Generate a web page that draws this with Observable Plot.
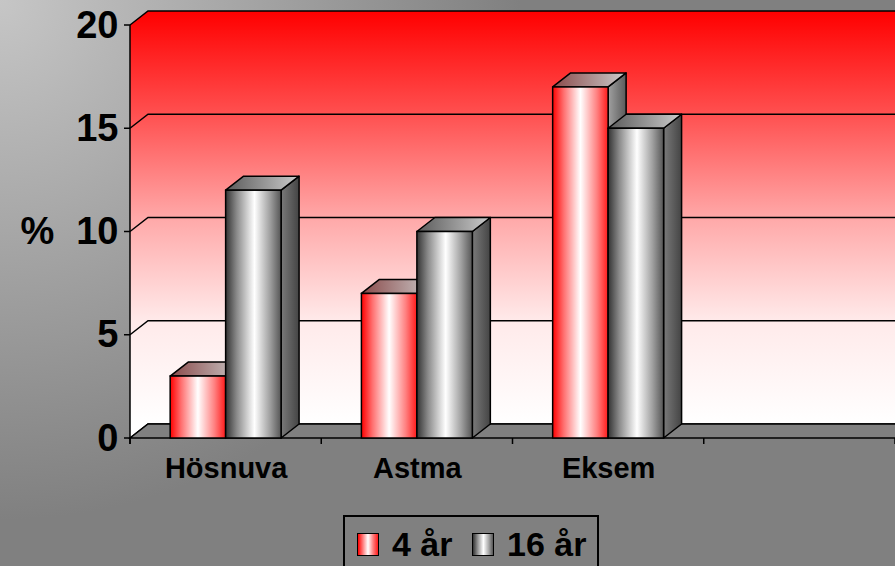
<!DOCTYPE html>
<html>
<head>
<meta charset="utf-8">
<script src="https://cdn.jsdelivr.net/npm/d3@7"></script>
<script src="https://cdn.jsdelivr.net/npm/@observablehq/plot@0.6"></script>
<style>
html, body { margin: 0; padding: 0; }
#wrap { position: relative; width: 895px; height: 566px; overflow: hidden;
  background: radial-gradient(circle at 0 0, #c6c6c6 0px, #808080 520px);
  font-family: "Liberation Sans", Arial, sans-serif; }
#chart svg { display: block; }
#legend { position: absolute; left: 343px; top: 515px; width: 252px; height: 60px; border: 2px solid #000; }
.sw { position: absolute; width: 20px; height: 21px; border: 1px solid #000; }
.lt { position: absolute; font: bold 34px/1 "Liberation Sans", Arial, sans-serif; color: #000; white-space: pre; }
</style>
</head>
<body>
<div id="wrap"><div id="chart"></div><div id="legend"></div></div>
<script>
// ---- data ----
const categories = ["Hösnuva", "Astma", "Eksem"];
const slotCount = 4; // the axis has four category slots, the last one empty
const seriesNames = ["4 år", "16 år"];
const values4 = [3, 7, 17];
const values16 = [12, 10, 15];
const yTicks = [0, 5, 10, 15, 20];

// ---- layout constants ----
const DX = 18, DY = -14;   // 3D depth offset in pixels
const barW = 0.29;         // bar width as fraction of a category slot

const bars4 = categories.map((c, i) => ({cat: c, series: seriesNames[0], value: values4[i], x1: i + 0.5 - barW, x2: i + 0.5}));
const bars16 = categories.map((c, i) => ({cat: c, series: seriesNames[1], value: values16[i], x1: i + 0.5, x2: i + 0.5 + barW}));

function grad(defs, id, stops, attrs) {
  const g = defs.append("linearGradient").attr("id", id);
  for (const k in attrs) g.attr(k, attrs[k]);
  for (const [o, c] of stops) g.append("stop").attr("offset", o).attr("stop-color", c);
}

// gradients (defined using the y scale for the wall)
const defsMark = (index, {x, y}) => {
  const g = d3.create("svg:g");
  const defs = g.append("defs");
  grad(defs, "wallGrad", [[0, "#ff0000"], [0.25, "#ff5050"], [0.5, "#ffa8a8"], [0.75, "#ffeaea"], [1, "#ffffff"]],
    {gradientUnits: "userSpaceOnUse", x1: 0, x2: 0, y1: y(20) + DY, y2: y(0) + DY});
  grad(defs, "redFront", [[0, "#ff0000"], [0.2, "#ff7070"], [0.5, "#ffffff"], [0.8, "#ff8080"], [1, "#ff1a1a"]], {x1: 0, x2: 1, y1: 0, y2: 0});
  grad(defs, "grayFront", [[0, "#333333"], [0.2, "#8a8a8a"], [0.52, "#ffffff"], [0.8, "#a0a0a0"], [1, "#555555"]], {x1: 0, x2: 1, y1: 0, y2: 0});
  grad(defs, "redTop", [[0, "#8a4a4a"], [1, "#cccccc"]], {x1: 0, x2: 1, y1: 0, y2: 0});
  grad(defs, "grayTop", [[0, "#5a5a5a"], [1, "#cccccc"]], {x1: 0, x2: 1, y1: 0, y2: 0});
  grad(defs, "redSide", [[0, "#a0a0a0"], [1, "#5a5a5a"]], {x1: 0, x2: 1, y1: 0, y2: 0});
  grad(defs, "graySide", [[0, "#7a7a7a"], [1, "#444444"]], {x1: 0, x2: 1, y1: 0, y2: 0});
  return g.node();
};

// walls, gridlines and floor
const wallsMark = (index, {x, y}) => {
  const g = d3.create("svg:g");
  const xl = x(0), xr = x(slotCount), yt = y(20), yb = y(0);
  // side wall
  g.append("path").attr("d", `M${xl},${yt}L${xl + DX},${yt + DY}L${xl + DX},${yb + DY}L${xl},${yb}Z`).attr("fill", "url(#wallGrad)");
  // back wall
  g.append("path").attr("d", `M${xl + DX},${yt + DY}L${xr + DX},${yt + DY}L${xr + DX},${yb + DY}L${xl + DX},${yb + DY}Z`).attr("fill", "url(#wallGrad)");
  // gridlines
  for (const t of yTicks) {
    const yy = y(t);
    g.append("path").attr("d", `M${xl},${yy}L${xl + DX},${yy + DY}L${xr + DX},${yy + DY}`)
      .attr("fill", "none").attr("stroke", "#000").attr("stroke-width", 1.5);
  }
  // floor
  g.append("path").attr("d", `M${xl},${yb}L${xl + DX},${yb + DY}L${xr + DX},${yb + DY}L${xr + DX},${yb}Z`)
    .attr("fill", "#808080").attr("stroke", "#000").attr("stroke-width", 1.5);
  return g.node();
};

function facesMark(bars, topGrad, sideGrad) {
  return (index, {x, y}) => {
    const g = d3.create("svg:g");
    for (const b of bars) {
      const xa = x(b.x1), xb = x(b.x2), yt = y(b.value), y0 = y(0);
      g.append("path").attr("d", `M${xb},${yt}L${xb + DX},${yt + DY}L${xb + DX},${y0 + DY}L${xb},${y0}Z`)
        .attr("fill", `url(#${sideGrad})`).attr("stroke", "#000").attr("stroke-width", 1.5).attr("stroke-linejoin", "round");
      g.append("path").attr("d", `M${xa},${yt}L${xa + DX},${yt + DY}L${xb + DX},${yt + DY}L${xb},${yt}Z`)
        .attr("fill", `url(#${topGrad})`).attr("stroke", "#000").attr("stroke-width", 1.5).attr("stroke-linejoin", "round");
    }
    return g.node();
  };
}

// axis lines and ticks
const axesMark = (index, {x, y}) => {
  const g = d3.create("svg:g").attr("stroke", "#000").attr("stroke-width", 1.5);
  const x0 = x(0), y0 = y(0);
  g.append("line").attr("x1", x0).attr("x2", x0).attr("y1", y(20)).attr("y2", y0 + 6);
  for (const t of yTicks) g.append("line").attr("x1", x0 - 6).attr("x2", x0).attr("y1", y(t)).attr("y2", y(t));
  for (let i = 0; i <= slotCount; i++) g.append("line").attr("x1", x(i)).attr("x2", x(i)).attr("y1", y0).attr("y2", y0 + 6);
  return g.node();
};

const chart = Plot.plot({
  width: 895,
  height: 505,
  marginLeft: 130,
  marginRight: 0,
  marginTop: 25,
  marginBottom: 67,
  x: {type: "linear", domain: [0, slotCount], axis: null},
  y: {domain: [0, 20], axis: null},
  style: {background: "transparent", fontFamily: "'Liberation Sans', Arial, sans-serif", overflow: "visible"},
  marks: [
    defsMark,
    wallsMark,
    facesMark(bars4, "redTop", "redSide"),
    Plot.rect(bars4, {x1: "x1", x2: "x2", y1: 0, y2: "value", fill: "url(#redFront)", stroke: "#000", strokeWidth: 1.5}),
    facesMark(bars16, "grayTop", "graySide"),
    Plot.rect(bars16, {x1: "x1", x2: "x2", y1: 0, y2: "value", fill: "url(#grayFront)", stroke: "#000", strokeWidth: 1.5}),
    axesMark,
    Plot.text(yTicks, {x: 0, y: d => d, text: d => `${d}`, textAnchor: "end", dx: -12, fontSize: 38, fontWeight: "bold", fill: "#000"}),
    Plot.text(categories, {x: (d, i) => i + 0.5, y: 0, text: d => d, dy: 30, fontSize: 29, fontWeight: "bold", fill: "#000"}),
    Plot.text(["%"], {x: 0, y: 10, text: d => d, textAnchor: "start", dx: -110, fontSize: 38, fontWeight: "bold", fill: "#000"})
  ]
});
document.getElementById("chart").appendChild(chart);

// legend
const legend = document.getElementById("legend");
const swatchBg = [
  "linear-gradient(to right, #ff0000, #ff8080 25%, #ffffff 50%, #ff8080 75%, #ff1a1a)",
  "linear-gradient(to right, #333, #999 25%, #fff 52%, #aaa 78%, #555)"
];
const swX = [12, 127];   // relative to legend box
const txX = [47, 162];
seriesNames.forEach((name, i) => {
  const sw = document.createElement("div");
  sw.className = "sw";
  sw.style.left = swX[i] + "px";
  sw.style.top = "16px";
  sw.style.background = swatchBg[i];
  legend.appendChild(sw);
  const t = document.createElement("div");
  t.className = "lt";
  t.textContent = name;
  t.style.left = txX[i] + "px";
  t.style.top = "10px";
  legend.appendChild(t);
});
</script>
</body>
</html>
